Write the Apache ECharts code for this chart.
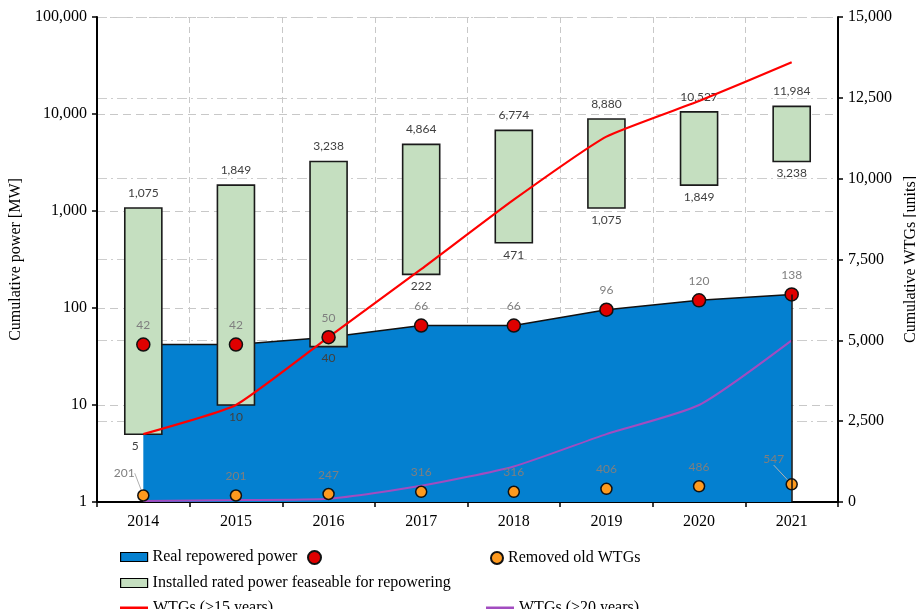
<!DOCTYPE html>
<html>
<head>
<meta charset="utf-8">
<script src="https://cdn.jsdelivr.net/npm/echarts@6/dist/echarts.min.js"></script>
<style>
  html, body { margin: 0; padding: 0; background: #fff; }
  #chart { width: 916px; height: 609px; }
</style>
</head>
<body>
<div id="chart"></div>
<script>
// data
var years = ['2014', '2015', '2016', '2017', '2018', '2019', '2020', '2021'];
var realPower = [42, 42, 50, 66, 66, 96, 120, 138];           // MW, left log axis
var feasibleLow = [5, 10, 40, 222, 471, 1075, 1849, 3238];    // MW
var feasibleHigh = [1075, 1849, 3238, 4864, 6774, 8880, 10527, 11984]; // MW
var removedWTGs = [201, 201, 247, 316, 316, 406, 486, 547];   // units, right axis
var wtgs15 = [2100, 3000, 5100, 7200, 9350, 11300, 12400, 13600];
var wtgs20 = [30, 60, 100, 500, 1100, 2100, 3000, 5000];

var serif = 'Liberation Serif';
var sans = 'Lato';

var fmt = function (v) {
    return Math.round(v).toLocaleString('en-US');
};

var boxData = [];
years.forEach(function (y, i) {
    boxData.push([i, feasibleLow[i], feasibleHigh[i]]);
});

// leader lines only on the first and last removed-WTG labels
var removedData = removedWTGs.map(function (v, i) {
    var edge = (i === 0 || i === removedWTGs.length - 1);
    return {value: v, labelLine: {show: edge}};
});

var renderBox = function (params, api) {
    var i = api.value(0);
    var lo = api.value(1), hi = api.value(2);
    var top = api.coord([i, hi]);
    var bot = api.coord([i, lo]);
    var w = api.size([1, 1])[0] * 0.4;
    // first bottom label sits a bit left, off the blue area
    var shift = params.dataIndex === 0 ? -8 : 0;
    return {
        type: 'group',
        children: [
            {
                type: 'rect',
                shape: {x: top[0] - w / 2, y: top[1], width: w, height: bot[1] - top[1]},
                style: {fill: '#c5dfc0', stroke: '#1a1a1a', lineWidth: 1.6}
            },
            {
                type: 'text',
                x: top[0], y: top[1] - 9,
                style: {text: fmt(hi), align: 'center', verticalAlign: 'bottom',
                    fill: '#404040', font: '12px ' + sans}
            },
            {
                type: 'text',
                x: bot[0] + shift, y: bot[1] + 6,
                style: {text: fmt(lo), align: 'center', verticalAlign: 'top',
                    fill: '#404040', font: '12px ' + sans}
            }
        ]
    };
};

var legendText = {fontFamily: serif, fontSize: 16, color: '#000'};

var myChart = echarts.init(document.getElementById('chart'));
var options = {
    animation: false,
    grid: {left: 97, right: 78, top: 17, bottom: 107, containLabel: false, outerBoundsMode: 'none'},
    legend: [
        {
            left: 115, top: 544, icon: 'rect', itemWidth: 27, itemHeight: 9,
            textStyle: legendText,
            data: [{name: 'Real repowered power', itemStyle: {color: '#0480d0', borderColor: '#000', borderWidth: 1.2}}]
        },
        {
            left: 302, top: 545, icon: 'circle', itemWidth: 13, itemHeight: 13,
            formatter: function () { return ''; },
            data: ['Real repowered power points']
        },
        {
            left: 485, top: 545, icon: 'circle', itemWidth: 12, itemHeight: 12,
            textStyle: legendText,
            data: ['Removed old WTGs']
        },
        {
            left: 115, top: 570, icon: 'rect', itemWidth: 27, itemHeight: 9,
            textStyle: legendText,
            data: [{name: 'Installed rated power feaseable for repowering', itemStyle: {color: '#c5dfc0', borderColor: '#000', borderWidth: 1.2}}]
        },
        {
            left: 115, top: 595, icon: 'rect', itemWidth: 28, itemHeight: 3,
            textStyle: legendText,
            data: [{name: 'WTGs (>15 years)', itemStyle: {color: '#ff0000', borderWidth: 0}}]
        },
        {
            left: 481, top: 595, icon: 'rect', itemWidth: 28, itemHeight: 3,
            textStyle: legendText,
            data: [{name: 'WTGs (>20 years)', itemStyle: {color: '#a24cc0', borderWidth: 0}}]
        }
    ],
    xAxis: {
        type: 'category',
        data: years,
        boundaryGap: true,
        axisLine: {lineStyle: {color: '#000', width: 2}},
        axisTick: {show: true, length: 5, lineStyle: {color: '#000', width: 1.5}},
        axisLabel: {fontFamily: serif, fontSize: 16, color: '#000', margin: 12},
        splitLine: {show: true, lineStyle: {color: '#c8c8c8', type: [6, 4], width: 1}}
    },
    yAxis: [
        {
            type: 'log',
            logBase: 10,
            min: 1,
            max: 100000,
            name: 'Cumulative power [MW]',
            nameLocation: 'middle',
            nameGap: 69,
            nameTextStyle: {fontFamily: serif, fontSize: 16, color: '#000'},
            axisLine: {show: true, lineStyle: {color: '#000', width: 2}},
            axisTick: {show: true, length: 5, lineStyle: {color: '#000', width: 1.5}},
            axisLabel: {fontFamily: serif, fontSize: 16, color: '#000', margin: 10, formatter: fmt},
            splitLine: {show: true, lineStyle: {color: '#c8c8c8', type: [8, 5], width: 1}}
        },
        {
            type: 'value',
            min: 0,
            max: 15000,
            interval: 2500,
            name: 'Cumulative WTGs [units]',
            nameLocation: 'middle',
            nameGap: 58,
            nameRotate: 90,
            nameTextStyle: {fontFamily: serif, fontSize: 16, color: '#000'},
            axisLine: {show: true, lineStyle: {color: '#000', width: 2}},
            axisTick: {show: true, length: 5, lineStyle: {color: '#000', width: 1.5}},
            axisLabel: {fontFamily: serif, fontSize: 16, color: '#000', margin: 10, formatter: fmt},
            splitLine: {show: true, lineStyle: {color: '#cdcdcd', type: [10, 4, 2, 4], width: 1}}
        }
    ],
    series: [
        {
            name: 'Real repowered power',
            type: 'line',
            yAxisIndex: 0,
            z: 1,
            data: realPower,
            symbol: 'none',
            lineStyle: {color: '#111', width: 1.5},
            itemStyle: {color: '#0480d0'},
            areaStyle: {color: '#0480d0', opacity: 1, origin: 'start'},
            markLine: {
                silent: true,
                symbol: 'none',
                label: {show: false},
                lineStyle: {color: '#111', width: 1.5, type: 'solid'},
                data: [[
                    {coord: [years[years.length - 1], realPower[realPower.length - 1]]},
                    {coord: [years[years.length - 1], 1]}
                ]]
            }
        },
        {
            name: 'Installed rated power feaseable for repowering',
            type: 'custom',
            yAxisIndex: 0,
            z: 2,
            renderItem: renderBox,
            encode: {x: 0, y: [1, 2]},
            itemStyle: {color: '#c5dfc0'},
            data: boxData
        },
        {
            name: 'WTGs (>15 years)',
            type: 'line',
            yAxisIndex: 1,
            z: 3,
            data: wtgs15,
            smooth: 0.15,
            symbol: 'none',
            lineStyle: {color: '#ff0000', width: 2.2},
            itemStyle: {color: '#ff0000'}
        },
        {
            name: 'WTGs (>20 years)',
            type: 'line',
            yAxisIndex: 1,
            z: 3,
            data: wtgs20,
            smooth: 0.2,
            symbol: 'none',
            lineStyle: {color: '#a24cc0', width: 2},
            itemStyle: {color: '#a24cc0'}
        },
        {
            name: 'Real repowered power points',
            type: 'scatter',
            yAxisIndex: 0,
            z: 4,
            data: realPower,
            symbolSize: 13,
            itemStyle: {color: '#e00000', borderColor: '#111', borderWidth: 1.5, opacity: 1},
            label: {show: true, position: 'top', distance: 6, color: '#7f7f7f', fontFamily: sans, fontSize: 12}
        },
        {
            name: 'Removed old WTGs',
            type: 'scatter',
            yAxisIndex: 1,
            z: 4,
            data: removedData,
            symbolSize: 11,
            itemStyle: {color: '#ff9a1e', borderColor: '#111', borderWidth: 1.5, opacity: 1},
            label: {show: true, position: 'top', distance: 7, color: '#7f7f7f', fontFamily: sans, fontSize: 12},
            labelLine: {show: false, lineStyle: {color: '#b0b0b0', width: 1}},
            labelLayout: function (params) {
                if (params.dataIndex === 0) {
                    return {dx: -19, dy: -3};
                }
                if (params.dataIndex === removedWTGs.length - 1) {
                    return {dx: -18, dy: -6};
                }
                return {};
            }
        }
    ]
};
myChart.setOption(options);
</script>
</body>
</html>
